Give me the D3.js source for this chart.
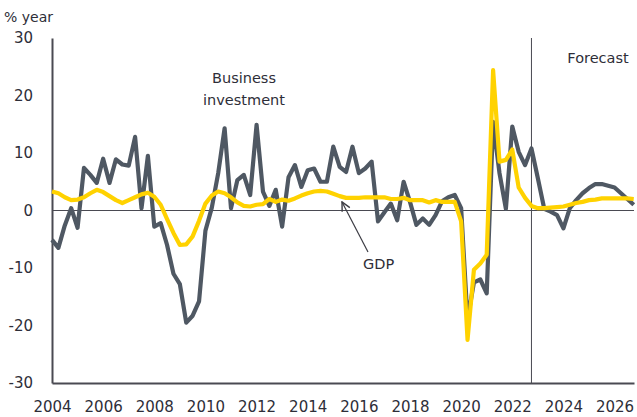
<!DOCTYPE html>
<html>
<head>
<meta charset="utf-8">
<script src="https://cdn.jsdelivr.net/npm/d3@7"></script>
<style>
  body { margin: 0; background: #fff; }
  text { font-family: "DejaVu Sans", sans-serif; fill: #2e2e38; }
</style>
</head>
<body>
<div id="chart"></div>
<script>
// quarterly, 2004 Q1 .. 2026 Q4
const startYear = 2004;
const quarters = d3.range(92).map(i => startYear + i / 4);

const investment = [
  -5.1, -6.5, -2.6, 0.4, -3.0, 7.4, 6.2, 4.8, 9.0, 4.8, 8.9, 8.0,
  7.8, 12.8, 0.4, 9.5, -2.8, -2.2, -6.0, -11.0, -12.8, -19.5, -18.3, -15.8,
  -3.5, 0.5, 6.5, 14.3, 0.4, 5.3, 6.2, 2.7, 14.9, 3.3, 0.8, 3.6,
  -2.8, 5.8, 7.9, 4.1, 7.0, 7.3, 5.0, 5.0, 11.1, 7.6, 6.7, 11.1,
  6.5, 7.3, 8.5, -1.9, -0.3, 1.2, -1.7, 5.0, 1.5, -2.5, -1.4, -2.5,
  -0.8, 1.6, 2.3, 2.7, 0.4, -19.0, -12.5, -12.0, -14.4, 15.4, 6.5, 0.3,
  14.6, 10.2, 7.9, 10.8, 5.6, 0.3, -0.2, -0.8, -3.1, 0.4, 1.8, 3.0,
  3.9, 4.6, 4.6, 4.3, 4.0, 3.0, 2.0, 1.0
];

const gdp = [
  3.3, 3.0, 2.3, 1.8, 1.9, 2.3, 3.0, 3.6, 3.2, 2.5, 1.8, 1.3,
  1.8, 2.3, 2.8, 3.1, 2.4, 1.0, -1.5, -3.9, -6.0, -5.9, -4.5, -1.8,
  1.2, 2.6, 3.3, 3.0, 2.3, 1.4, 0.8, 0.7, 1.0, 1.1, 2.0, 1.5,
  1.9, 1.7, 2.1, 2.6, 3.0, 3.3, 3.4, 3.3, 2.9, 2.5, 2.2, 2.2,
  2.2, 2.3, 2.3, 2.3, 2.3, 2.0, 2.0, 2.2, 1.8, 1.8, 1.8, 1.4,
  1.8, 1.5, 1.5, 1.5, -1.9, -22.5, -10.3, -9.2, -7.7, 24.4, 8.5, 8.8,
  10.6, 4.0, 2.2, 0.8, 0.4, 0.4, 0.5, 0.6, 0.7, 1.0, 1.3, 1.5,
  1.8, 1.9, 2.1, 2.1, 2.1, 2.1, 2.1, 2.0
];

const xTicks = d3.range(2004, 2027, 2);
const yTicks = [-30, -20, -10, 0, 10, 20, 30];
const forecastStart = 2022.75;

const width = 637, height = 417;
const margin = { top: 38, right: 3, bottom: 34, left: 52 };

const svg = d3.select("#chart").append("svg")
    .attr("width", width)
    .attr("height", height);

const x = d3.scaleLinear()
    .domain([startYear, 2026.76])
    .range([margin.left, width - margin.right]);

const y = d3.scaleLinear()
    .domain([-30, 30])
    .range([height - margin.bottom, margin.top]);

// zero line
svg.append("line")
    .attr("x1", x(startYear)).attr("x2", x.range()[1])
    .attr("y1", y(0)).attr("y2", y(0))
    .attr("stroke", "#4a4a52").attr("stroke-width", 1);

// forecast divider
svg.append("line")
    .attr("x1", x(forecastStart)).attr("x2", x(forecastStart))
    .attr("y1", y(30)).attr("y2", y(-30))
    .attr("stroke", "#4a4a52").attr("stroke-width", 1);

// axes
const yAxis = svg.append("g")
    .attr("transform", `translate(${margin.left},0)`)
    .call(d3.axisLeft(y).tickValues(yTicks).tickFormat(d => String(d)).tickSize(0).tickPadding(19));
yAxis.select(".domain").attr("stroke", "#4a4a52").attr("stroke-width", 2);
yAxis.selectAll("text")
    .style("font-size", "15px")
    .attr("fill", "#2e2e38");

const xAxis = svg.append("g")
    .attr("transform", `translate(0,${y(-30)})`)
    .call(d3.axisBottom(x).tickValues(xTicks).tickFormat(d3.format("d")).tickSize(0).tickPadding(18));
xAxis.select(".domain").attr("stroke", "#4a4a52").attr("stroke-width", 2);
xAxis.selectAll("text")
    .style("font-size", "15px")
    .attr("fill", "#2e2e38");

svg.selectAll(".tick text").attr("font-family", "DejaVu Sans");

const line = d3.line()
    .x((d, i) => x(quarters[i]))
    .y(d => y(d));

svg.append("path")
    .datum(investment)
    .attr("fill", "none")
    .attr("stroke", "#4f5863")
    .attr("stroke-width", 4.2)
    .attr("stroke-linejoin", "round")
    .attr("d", line);

svg.append("path")
    .datum(gdp)
    .attr("fill", "none")
    .attr("stroke", "#ffd200")
    .attr("stroke-width", 4.2)
    .attr("stroke-linejoin", "round")
    .attr("d", line);

// labels
svg.append("text")
    .attr("x", 4).attr("y", 22)
    .style("font-size", "14px")
    .text("% year");

const bi = svg.append("text")
    .attr("text-anchor", "middle")
    .style("font-size", "14.5px");
bi.append("tspan").attr("x", 244).attr("y", 83).text("Business");
bi.append("tspan").attr("x", 244).attr("y", 105).text("investment");

svg.append("text")
    .attr("x", 598).attr("y", 63)
    .attr("text-anchor", "middle")
    .style("font-size", "14.5px")
    .text("Forecast");

svg.append("text")
    .attr("x", 363).attr("y", 269)
    .style("font-size", "14.5px")
    .text("GDP");

svg.append("defs").append("marker")
    .attr("id", "head")
    .attr("viewBox", "0 0 10 10")
    .attr("refX", 9).attr("refY", 5)
    .attr("markerWidth", 9).attr("markerHeight", 9)
    .attr("orient", "auto")
  .append("path")
    .attr("d", "M1,1 L9,5 L1,9")
    .attr("fill", "none")
    .attr("stroke", "#3c3c44")
    .attr("stroke-width", 1.3);

svg.append("line")
    .attr("x1", 368).attr("y1", 252)
    .attr("x2", 342).attr("y2", 202)
    .attr("stroke", "#3c3c44")
    .attr("stroke-width", 1.2)
    .attr("marker-end", "url(#head)");
</script>
</body>
</html>
